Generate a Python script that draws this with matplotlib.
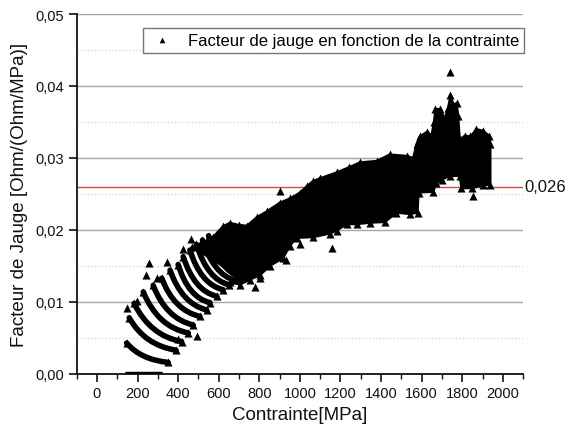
import matplotlib
matplotlib.use("Agg")
import matplotlib.pyplot as plt
from matplotlib.path import Path
from matplotlib.patches import PathPatch
from matplotlib.ticker import MultipleLocator, FuncFormatter
import numpy as np

plt.rcParams['font.family'] = ['Liberation Sans', 'DejaVu Sans']

# low-stress branches: start point, bezier control point, end point
arc_x0 = [146, 159, 183, 228, 277, 319, 360, 400, 425, 458, 490, 520, 550]
arc_y0 = [0.0043, 0.0078, 0.0098, 0.0114, 0.0123, 0.0133, 0.0144, 0.0152, 0.0163,
          0.0172, 0.0180, 0.0186, 0.0192]
arc_cx = [215, 235, 262, 300, 340, 380, 420, 450, 480, 512, 545, 575, 605]
arc_cy = [0.0020, 0.0040, 0.0053, 0.0065, 0.0077, 0.0088, 0.0097, 0.0106, 0.0115,
          0.0124, 0.0131, 0.0138, 0.0144]
arc_x1 = [351, 389, 417, 450, 474, 507, 540, 557, 590, 622, 650, 680, 710]
arc_y1 = [0.0016, 0.0033, 0.0045, 0.0057, 0.0068, 0.0080, 0.0089, 0.0099, 0.0108,
          0.0117, 0.0124, 0.0130, 0.0134]

# points sitting on zero
zero_x = [140, 320]

# dense cloud: upper and lower envelope
up_x = [470, 520, 571, 620, 655, 700, 739, 788, 837, 901, 951, 1000, 1034, 1064,
        1100, 1181, 1240, 1296, 1378, 1443, 1526, 1558, 1575, 1590, 1624, 1649,
        1660, 1668, 1690, 1714, 1730, 1742, 1760, 1772, 1780, 1788, 1813, 1840,
        1870, 1903, 1932, 1939]
up_y = [0.0176, 0.0182, 0.0190, 0.0205, 0.0210, 0.0207, 0.0206, 0.0218, 0.0226,
        0.0238, 0.0244, 0.0252, 0.0261, 0.0268, 0.0272, 0.0280, 0.0287, 0.0294,
        0.0296, 0.0305, 0.0303, 0.0300, 0.0320, 0.0330, 0.0336, 0.0332, 0.0350,
        0.0368, 0.0368, 0.0355, 0.0370, 0.0387, 0.0372, 0.0377, 0.0359, 0.0326,
        0.0331, 0.0330, 0.0340, 0.0338, 0.0331, 0.0320]
lo_x = [655, 704, 754, 803, 852, 918, 951, 984, 1066, 1148, 1181, 1230, 1279,
        1345, 1419, 1476, 1542, 1580, 1585, 1657, 1673, 1700, 1739, 1788, 1795,
        1850, 1900, 1939]
lo_y = [0.0128, 0.0124, 0.0131, 0.0137, 0.0150, 0.0161, 0.0178, 0.0189,
        0.0190, 0.0195, 0.0199, 0.0208, 0.0208, 0.0210, 0.0211, 0.0224, 0.0222,
        0.0224, 0.0252, 0.0253, 0.0265, 0.0270, 0.0275, 0.0275, 0.0258, 0.0258,
        0.0262, 0.0263]

# isolated points
out_x = [146, 195, 241, 258, 294, 343, 401, 425, 461, 494, 573, 778, 803, 901,
         931, 1000, 1156, 1742, 1854]
out_y = [0.0091, 0.0102, 0.0137, 0.0154, 0.0134, 0.0155, 0.0048, 0.0173, 0.0188,
         0.0053, 0.0188, 0.0121, 0.0133, 0.0254, 0.0159, 0.0181, 0.0175, 0.0419,
         0.0247]

ref_value = 0.026

fig = plt.figure(figsize=(5.68, 4.35), dpi=100)
ax = fig.add_axes([0.135, 0.138, 0.786, 0.8275])

ink = 'black'
tri = dict(marker='^', s=34, color=ink, linewidths=0)

# gridlines
ax.set_axisbelow(True)
ax.yaxis.set_major_locator(MultipleLocator(0.01))
ax.yaxis.set_minor_locator(MultipleLocator(0.005))
ax.grid(axis='y', which='major', color='#a6a6a6', lw=1.0, ls='-')
ax.grid(axis='y', which='minor', color='#d6d6d6', lw=1.0, ls=(0, (1, 1.5)))

ax.axhline(ref_value, color='#c8504b', lw=1.0, zorder=1)

# branches
for i in range(len(arc_x0)):
    verts = [(arc_x0[i], arc_y0[i]), (arc_cx[i], arc_cy[i]), (arc_x1[i], arc_y1[i])]
    p = Path(verts, [Path.MOVETO, Path.CURVE3, Path.CURVE3])
    ax.add_patch(PathPatch(p, fc='none', ec=ink, lw=4.0, capstyle='round', zorder=3))
ax.scatter(arc_x0, arc_y0, zorder=3, **tri)
ax.scatter(arc_x1, arc_y1, zorder=3, **tri)

ax.plot(zero_x, [0.0002, 0.0002], color=ink, lw=2.5, solid_capstyle='butt', zorder=3)

# cloud
poly_x = up_x + [1939] + lo_x[::-1] + [arc_x1[-1]]
poly_y = up_y + [0.0263] + lo_y[::-1] + [arc_y1[-1]]
ax.fill(poly_x, poly_y, color=ink, lw=1.5, ec=ink, zorder=3)
ax.scatter(up_x, up_y, zorder=3, **tri)
ax.scatter(lo_x, lo_y, zorder=3, **tri)

ax.scatter(out_x, out_y, zorder=3, label='Facteur de jauge en fonction de la contrainte', **tri)

ax.set_xlim(-100, 2100)
ax.set_ylim(0, 0.05)
ax.xaxis.set_major_locator(MultipleLocator(200))
ax.xaxis.set_minor_locator(MultipleLocator(100))
ax.yaxis.set_major_formatter(FuncFormatter(lambda v, p: f"{v:.2f}".replace('.', ',')))

for s in ['top', 'right']:
    ax.spines[s].set_visible(False)
for s in ['left', 'bottom']:
    ax.spines[s].set_linewidth(1.3)
    ax.spines[s].set_color('#111111')

ax.tick_params(axis='both', which='major', direction='out', length=6, width=1.2,
               labelsize=10.5, colors='#111111', pad=3)
ax.tick_params(axis='x', which='minor', direction='out', length=3.5, width=1.0, colors='#111111')
ax.tick_params(axis='y', which='minor', length=0)

ax.text(2105, ref_value, '0,026', fontsize=12, va='center', ha='left', color='#111111',
        clip_on=False)

ax.set_xlabel('Contrainte[MPa]', fontsize=13.5, color='#111111', labelpad=4)
ax.set_ylabel('Facteur de Jauge [Ohm/(Ohm/MPa)]', fontsize=13.5, color='#111111', labelpad=5)

leg = ax.legend(loc='upper right', bbox_to_anchor=(1.003, 0.962), borderaxespad=0,
                fontsize=12, frameon=True, fancybox=False, markerscale=0.7,
                handletextpad=0.8, borderpad=0.3, handlelength=1.6)
leg.get_frame().set_edgecolor('#555555')
leg.get_frame().set_linewidth(1.0)

fig.savefig('out.png', dpi=100)
